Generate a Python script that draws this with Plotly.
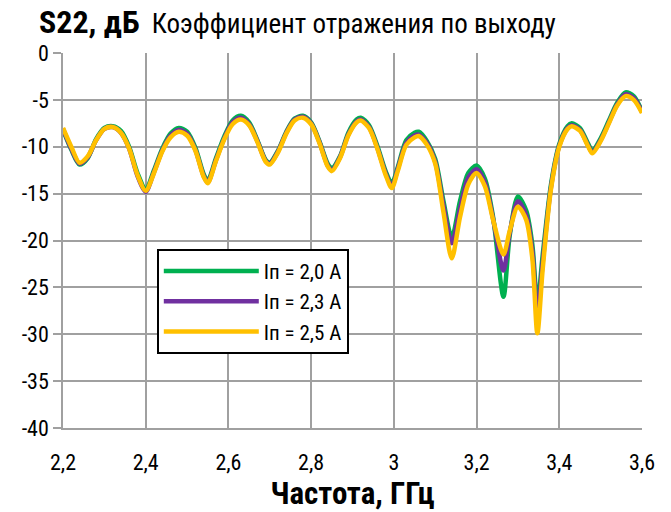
import plotly.graph_objects as go

freq = [2.20, 2.22, 2.24, 2.26, 2.28, 2.30, 2.32, 2.34, 2.36, 2.38, 2.40, 2.42, 2.44, 2.46, 2.48, 2.50,
        2.52, 2.54, 2.55, 2.57, 2.59, 2.61, 2.63, 2.65, 2.67, 2.69, 2.70, 2.72, 2.74, 2.76, 2.78, 2.80,
        2.82, 2.84, 2.85, 2.87, 2.89, 2.91, 2.92, 2.94, 2.96, 2.98, 2.995, 3.01, 3.03, 3.05, 3.06, 3.08,
        3.10, 3.12, 3.14, 3.16, 3.18, 3.20, 3.22, 3.24, 3.265, 3.28, 3.30, 3.32, 3.335, 3.347, 3.36, 3.38,
        3.40, 3.42, 3.43, 3.45, 3.47, 3.48, 3.50, 3.52, 3.54, 3.56, 3.58, 3.60]

s22_20 = [-8.2, -10.3, -11.9, -11.2, -9.2, -8.0, -7.8, -8.3, -10.0, -12.8, -14.5, -12.5, -10.2, -8.6, -8.0, -8.4,
          -10.1, -12.9, -13.6, -11.2, -8.9, -7.2, -6.7, -7.4, -9.3, -11.4, -11.7, -10.4, -8.4, -7.0, -6.7, -7.4,
          -9.4, -11.8, -12.3, -11.0, -8.5, -7.1, -6.9, -7.7, -9.9, -12.6, -13.9, -12.1, -9.3, -8.5, -8.4, -9.4,
          -11.3, -15.8, -19.7, -15.8, -12.8, -12.0, -13.4, -17.5, -26.0, -19.5, -15.3, -16.8, -20.5, -26.8, -21.5, -14.0,
          -9.7, -7.8, -7.5, -8.0, -9.7, -10.4, -9.1, -7.2, -5.3, -4.2, -4.6, -6.2]

s22_23 = [-8.1, -10.2, -11.8, -11.1, -9.3, -8.1, -7.9, -8.5, -10.2, -13.1, -14.8, -12.7, -10.4, -8.8, -8.2, -8.6,
          -10.3, -13.1, -13.8, -11.4, -9.1, -7.4, -6.9, -7.6, -9.4, -11.5, -11.8, -10.5, -8.5, -7.1, -6.8, -7.5,
          -9.5, -12.0, -12.5, -11.1, -8.7, -7.3, -7.1, -7.9, -10.1, -12.8, -14.2, -12.3, -9.6, -8.8, -8.7, -9.6,
          -11.6, -16.3, -20.3, -16.6, -13.3, -12.4, -13.8, -17.7, -23.2, -19.2, -15.8, -17.3, -21.2, -28.0, -22.3, -14.3,
          -9.9, -8.0, -7.7, -8.2, -9.9, -10.6, -9.3, -7.4, -5.5, -4.4, -4.8, -6.3]

s22_25 = [-8.0, -10.0, -11.7, -11.0, -9.3, -8.1, -7.9, -8.5, -10.2, -13.0, -14.7, -12.8, -10.5, -9.0, -8.4, -8.8,
          -10.4, -13.2, -13.9, -11.5, -9.2, -7.6, -7.1, -7.7, -9.5, -11.6, -11.9, -10.6, -8.6, -7.2, -6.9, -7.6,
          -9.6, -12.1, -12.6, -11.2, -8.8, -7.4, -7.2, -8.0, -10.2, -13.0, -14.4, -12.5, -9.8, -9.0, -8.85, -9.8,
          -11.8, -17.0, -21.9, -17.5, -14.0, -12.8, -14.2, -17.8, -21.5, -19.0, -16.4, -17.8, -22.0, -29.9, -23.0, -14.5,
          -10.0, -8.1, -7.8, -8.3, -10.0, -10.7, -9.4, -7.5, -5.6, -4.6, -5.0, -6.4]

series_names = ["Iп = 2,0 А", "Iп = 2,3 А", "Iп = 2,5 А"]
series_values = [s22_20, s22_23, s22_25]
series_colors = ["#00B050", "#7030A0", "#FFC000"]

x_ticks = [2.2, 2.4, 2.6, 2.8, 3.0, 3.2, 3.4, 3.6]
x_tick_labels = ["2,2", "2,4", "2,6", "2,8", "3", "3,2", "3,4", "3,6"]
y_ticks = [0, -5, -10, -15, -20, -25, -30, -35, -40]
y_tick_labels = ["0", "-5", "-10", "-15", "-20", "-25", "-30", "-35", "-40"]

FONT = "Roboto Condensed, Liberation Sans, Arial, sans-serif"

fig = go.Figure()
for name, vals, col in zip(series_names, series_values, series_colors):
    fig.add_trace(go.Scatter(x=freq, y=vals, name=name, mode="lines",
                             line=dict(color=col, width=4.5, shape="spline", smoothing=0.8)))

fig.update_layout(
    width=671, height=512,
    margin=dict(l=63, r=29, t=53, b=84),
    paper_bgcolor="white", plot_bgcolor="white",
    font=dict(family=FONT, size=22, color="black"),
    showlegend=True,
    legend=dict(x=0.162, y=0.478, xanchor="left", yanchor="top",
                bgcolor="white", bordercolor="black", borderwidth=2,
                font=dict(family=FONT, size=21, color="black"),
                tracegroupgap=0, itemwidth=95),
    annotations=[dict(xref="paper", yref="paper", x=-0.045, y=1.083, xanchor="left", yanchor="middle",
                      showarrow=False,
                      text="<b><span style='font-size:32px'>S22, дБ</span></b>  Коэффициент отражения по выходу",
                      font=dict(family=FONT, size=27, color="black"))],
)
fig.update_xaxes(range=[2.2, 3.6], tickvals=x_ticks, ticktext=x_tick_labels,
                 showgrid=True, gridcolor="#A0A0A0", gridwidth=1.5,
                 showline=True, linecolor="#A0A0A0", linewidth=1.5,
                 ticks="", ticklabelstandoff=14, zeroline=False,
                 title=dict(text="<b>Частота, ГГц</b>", font=dict(family=FONT, size=31), standoff=4))
fig.update_yaxes(range=[-40, 0], tickvals=y_ticks, ticktext=y_tick_labels,
                 showgrid=True, gridcolor="#A0A0A0", gridwidth=1.5,
                 showline=True, linecolor="#A0A0A0", linewidth=1.5,
                 ticks="outside", ticklen=8, tickcolor="#A0A0A0", tickwidth=1.5, zeroline=False)

fig.write_html("out.html", config={"displayModeBar": False},
               post_script="document.body.style.margin='0';")
